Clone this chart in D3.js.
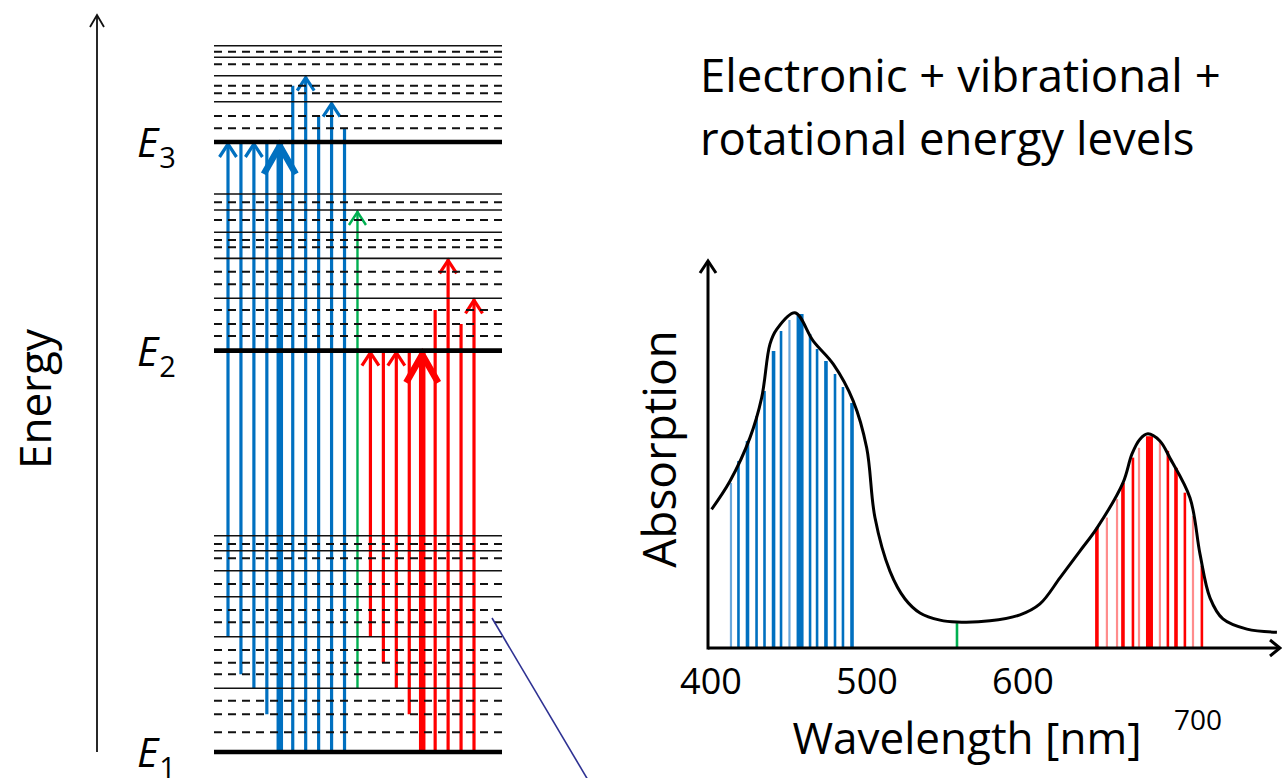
<!DOCTYPE html>
<html>
<head>
<meta charset="utf-8">
<script src="https://cdn.jsdelivr.net/npm/d3@7"></script>
<style>
  html, body { margin: 0; padding: 0; background: #fff; }
  svg { display: block; }
  text { font-family: "Open Sans", Lato, sans-serif; fill: #000; font-variant-ligatures: none; }
</style>
</head>
<body>
<svg id="chart" width="1282" height="778"></svg>
<script>
// ---------- Energy level diagram data (arbitrary energy units, E1 = 0, E3 = 100) ----------
const electronicLevels = [0, 65.8, 100];
const electronicNames = ["1", "2", "3"];
const vibrationalLevels = [10.44, 18.90, 25.46, 29.72, 33.0, 35.46,
                           74.38, 80.93, 85.20, 88.85, 91.48,
                           106.61, 110.87, 113.89, 115.79];
const rotationalLevels = [3.23, 6.18, 8.41, 12.74, 14.64, 16.72, 21.26, 23.28, 27.54, 31.75, 34.10,
                          68.20, 70.16, 72.46, 76.67, 78.74, 82.74, 83.93, 87.21, 90.11,
                          102.25, 104.26, 107.98, 109.23, 112.74, 114.80];

// transitions: start level, end level, colour group, heavy (main band), arrowhead
const transFrom  = [18.90, 12.74, 10.44, 6.18, 0, 0, 0, 0, 0, 0,
                    10.44,
                    18.90, 14.64, 10.44, 6.18, 0, 0, 0, 0, 0];
const transTo    = [100, 100, 100, 100, 100, 109.23, 110.87, 104.26, 106.61, 102.25,
                    88.85,
                    65.8, 65.8, 65.8, 65.8, 65.8, 72.46, 80.93, 70.16, 74.38];
const transGroup = ["blue","blue","blue","blue","blue","blue","blue","blue","blue","blue",
                    "green",
                    "red","red","red","red","red","red","red","red","red"];
const transHeavy = [0,0,0,0,1,0,0,0,0,0, 0, 0,0,0,0,1,0,0,0,0];
const transHead  = [1,0,1,0,1,0,1,0,1,0, 1, 1,0,1,0,1,0,1,0,1];

// ---------- Absorption spectrum data ----------
const curveWavelength = [400.4, 412.2, 425.0, 432.5, 437.8, 442.1, 453.8, 465.6, 478.4, 491.2,
                         499.8, 505.1, 514.7, 524.4, 534.0, 546.8, 557.7, 578.8, 598.1, 610.9,
                         623.7, 636.5, 647.4, 664.1, 669.9, 675.0, 680.1, 687.8, 694.2, 707.1,
                         713.5, 719.9, 728.2, 743.6, 762.8];
const curveAbsorption = [0.368, 0.443, 0.558, 0.664, 0.806, 0.845, 0.889, 0.814, 0.753, 0.655,
                         0.531, 0.346, 0.204, 0.130, 0.093, 0.074, 0.069, 0.072, 0.088, 0.117,
                         0.186, 0.257, 0.318, 0.438, 0.515, 0.554, 0.568, 0.549, 0.504, 0.398,
                         0.249, 0.133, 0.077, 0.050, 0.042];

// individual absorption lines: wavelength, height, weight (1 faint, 2 normal, 3 strong, 4 band centre)
const blueLineWavelength = [412.8, 417.6, 423.4, 429.2, 434.3, 440.1, 444.9, 450.3, 457.1,
                            463.5, 468.0, 473.7, 479.5, 484.6, 490.4];
const blueLineHeight     = [0.438, 0.496, 0.549, 0.615, 0.682, 0.788, 0.841, 0.870, 0.886,
                            0.833, 0.793, 0.761, 0.727, 0.692, 0.650];
const blueLineWeight     = [1, 2, 3, 2, 2, 3, 2, 1, 4, 2, 2, 3, 2, 2, 3];

const greenLineWavelength = [557.7];
const greenLineHeight     = [0.066];
const greenLineWeight     = [2];

const redLineWavelength = [647.4, 653.8, 660.3, 664.1, 670.5, 674.4, 681.1, 687.8, 692.9,
                           698.1, 703.8, 709.0, 714.7];
const redLineHeight     = [0.319, 0.346, 0.395, 0.438, 0.505, 0.531, 0.562, 0.549, 0.523,
                           0.478, 0.412, 0.350, 0.218];
const redLineWeight     = [3, 1, 1, 3, 2, 1, 4, 1, 2, 3, 2, 1, 2];

const wavelengthTicks = [400, 500, 600, 700];

// ---------- colours ----------
const palette = {
  blue:  { strong: "#0070C0", faint: "#6aa8dc" },
  green: { strong: "#00B050", faint: "#00B050" },
  red:   { strong: "#FF0000", faint: "#ff8c8c" }
};

const svg = d3.select("#chart");

// ================= Energy level diagram =================
const yE = d3.scaleLinear().domain([0, 100]).range([752, 142]);
const xT = d3.scalePoint().domain(d3.range(transFrom.length)).range([228, 474]);
const levelX0 = 214, levelX1 = 502;

// energy axis arrow
const axisG = svg.append("g");
axisG.append("line").attr("x1", 97).attr("x2", 97).attr("y1", 752).attr("y2", 15)
  .attr("stroke", "#111").attr("stroke-width", 1.8);
axisG.append("path").attr("d", "M90,27 L97,15 L104,27")
  .attr("fill", "none").attr("stroke", "#111").attr("stroke-width", 1.8);
axisG.append("text").attr("transform", "translate(51,399) rotate(-90)")
  .attr("text-anchor", "middle").attr("font-size", 44).text("Energy");

// transitions (drawn beneath the level lines)
const arrowG = svg.append("g");
transFrom.forEach((f, i) => {
  const x = xT(i);
  const y0 = yE(f), y1 = yE(transTo[i]);
  const heavy = transHeavy[i] === 1;
  const colour = palette[transGroup[i]].strong;
  const sw = transGroup[i] === "green" ? 2.4 : (heavy ? 6.5 : 3.2);
  arrowG.append("line").attr("x1", x).attr("x2", x).attr("y1", y0).attr("y2", y1 + (transHead[i] ? 1 : 0))
    .attr("stroke", colour).attr("stroke-width", sw);
  if (transHead[i]) {
    const hw = heavy ? 16 : 8.5, hh = heavy ? 28 : 13;
    const tip = y1 + (heavy ? 4 : 2);
    arrowG.append("path")
      .attr("d", `M${x - hw},${tip + hh} L${x},${tip} L${x + hw},${tip + hh}`)
      .attr("fill", "none").attr("stroke", colour).attr("stroke-width", sw)
      .attr("stroke-linejoin", "miter");
  }
});

// level lines
const levelG = svg.append("g");
levelG.selectAll("line.rot").data(rotationalLevels).join("line").attr("class", "rot")
  .attr("x1", levelX0).attr("x2", levelX1).attr("y1", d => yE(d)).attr("y2", d => yE(d))
  .attr("stroke", "#111").attr("stroke-width", 2).attr("stroke-dasharray", "8,6");
levelG.selectAll("line.vib").data(vibrationalLevels).join("line").attr("class", "vib")
  .attr("x1", levelX0).attr("x2", levelX1).attr("y1", d => yE(d)).attr("y2", d => yE(d))
  .attr("stroke", "#111").attr("stroke-width", 1.6);
levelG.selectAll("line.el").data(electronicLevels).join("line").attr("class", "el")
  .attr("x1", levelX0).attr("x2", levelX1).attr("y1", d => yE(d)).attr("y2", d => yE(d))
  .attr("stroke", "#000").attr("stroke-width", 4.6);

// electronic level labels
electronicLevels.forEach((e, i) => {
  const t = levelG.append("text").attr("x", 137).attr("y", yE(e) + 15).attr("font-size", 41);
  t.append("tspan").attr("font-style", "italic").text("E");
  t.append("tspan").attr("font-size", 29).attr("dy", 11).attr("dx", 1).text(electronicNames[i]);
});

// pointer line
svg.append("line").attr("x1", 492).attr("y1", 618).attr("x2", 588).attr("y2", 780)
  .attr("stroke", "#2e3192").attr("stroke-width", 1.6);

// ================= Absorption spectrum =================
const xW = d3.scaleLinear().domain([400, 766.7]).range([711, 1283]);
const yA = d3.scaleLinear().domain([0, 1]).range([648, 271]);
const plotLeft = 708, baseY = 648;

const specG = svg.append("g");
function drawLines(wl, h, wt, group) {
  wl.forEach((w, i) => {
    const weight = wt[i];
    const sw = weight === 4 ? 7 : weight === 3 ? 3.6 : weight === 2 ? 2.6 : 2.2;
    const col = weight === 1 ? palette[group].faint : palette[group].strong;
    specG.append("line").attr("x1", xW(w)).attr("x2", xW(w))
      .attr("y1", yA(0)).attr("y2", yA(h[i]))
      .attr("stroke", col).attr("stroke-width", sw);
  });
}
drawLines(blueLineWavelength, blueLineHeight, blueLineWeight, "blue");
drawLines(greenLineWavelength, greenLineHeight, greenLineWeight, "green");
drawLines(redLineWavelength, redLineHeight, redLineWeight, "red");

const curve = d3.line().x(d => xW(d[0])).y(d => yA(d[1])).curve(d3.curveCatmullRom.alpha(0.5));
specG.append("path").datum(curveWavelength.map((w, i) => [w, curveAbsorption[i]]))
  .attr("d", curve).attr("fill", "none").attr("stroke", "#000").attr("stroke-width", 3)
  .attr("stroke-linejoin", "round");

// axes with open arrowheads
specG.append("line").attr("x1", plotLeft).attr("x2", plotLeft).attr("y1", baseY + 1.5).attr("y2", 261)
  .attr("stroke", "#000").attr("stroke-width", 3);
specG.append("path").attr("d", `M${plotLeft - 8},${273} L${plotLeft},${261} L${plotLeft + 8},${273}`)
  .attr("fill", "none").attr("stroke", "#000").attr("stroke-width", 3);
specG.append("line").attr("x1", plotLeft).attr("x2", 1280).attr("y1", baseY).attr("y2", baseY)
  .attr("stroke", "#000").attr("stroke-width", 3);
specG.append("path").attr("d", `M1270,${baseY - 8} L1280,${baseY} L1270,${baseY + 8}`)
  .attr("fill", "none").attr("stroke", "#000").attr("stroke-width", 3);

// tick labels (the 700 label sits raised beside the axis title)
wavelengthTicks.forEach(t => {
  const shifted = t === 700;
  specG.append("text").attr("x", xW(t) + (shifted ? 19 : 0)).attr("y", shifted ? 730 : 694)
    .attr("text-anchor", "middle").attr("font-size", shifted ? 28 : 36).text(t);
});

specG.append("text").attr("x", 967).attr("y", 754).attr("text-anchor", "middle")
  .attr("font-size", 44).text("Wavelength [nm]");
specG.append("text").attr("transform", "translate(676,449) rotate(-90)")
  .attr("text-anchor", "middle").attr("font-size", 46).text("Absorption");

// title
const title = svg.append("text").attr("x", 700).attr("font-size", 45.5);
title.append("tspan").attr("x", 700).attr("y", 92).text("Electronic + vibrational +");
title.append("tspan").attr("x", 700).attr("y", 155).text("rotational energy levels");
</script>
</body>
</html>
